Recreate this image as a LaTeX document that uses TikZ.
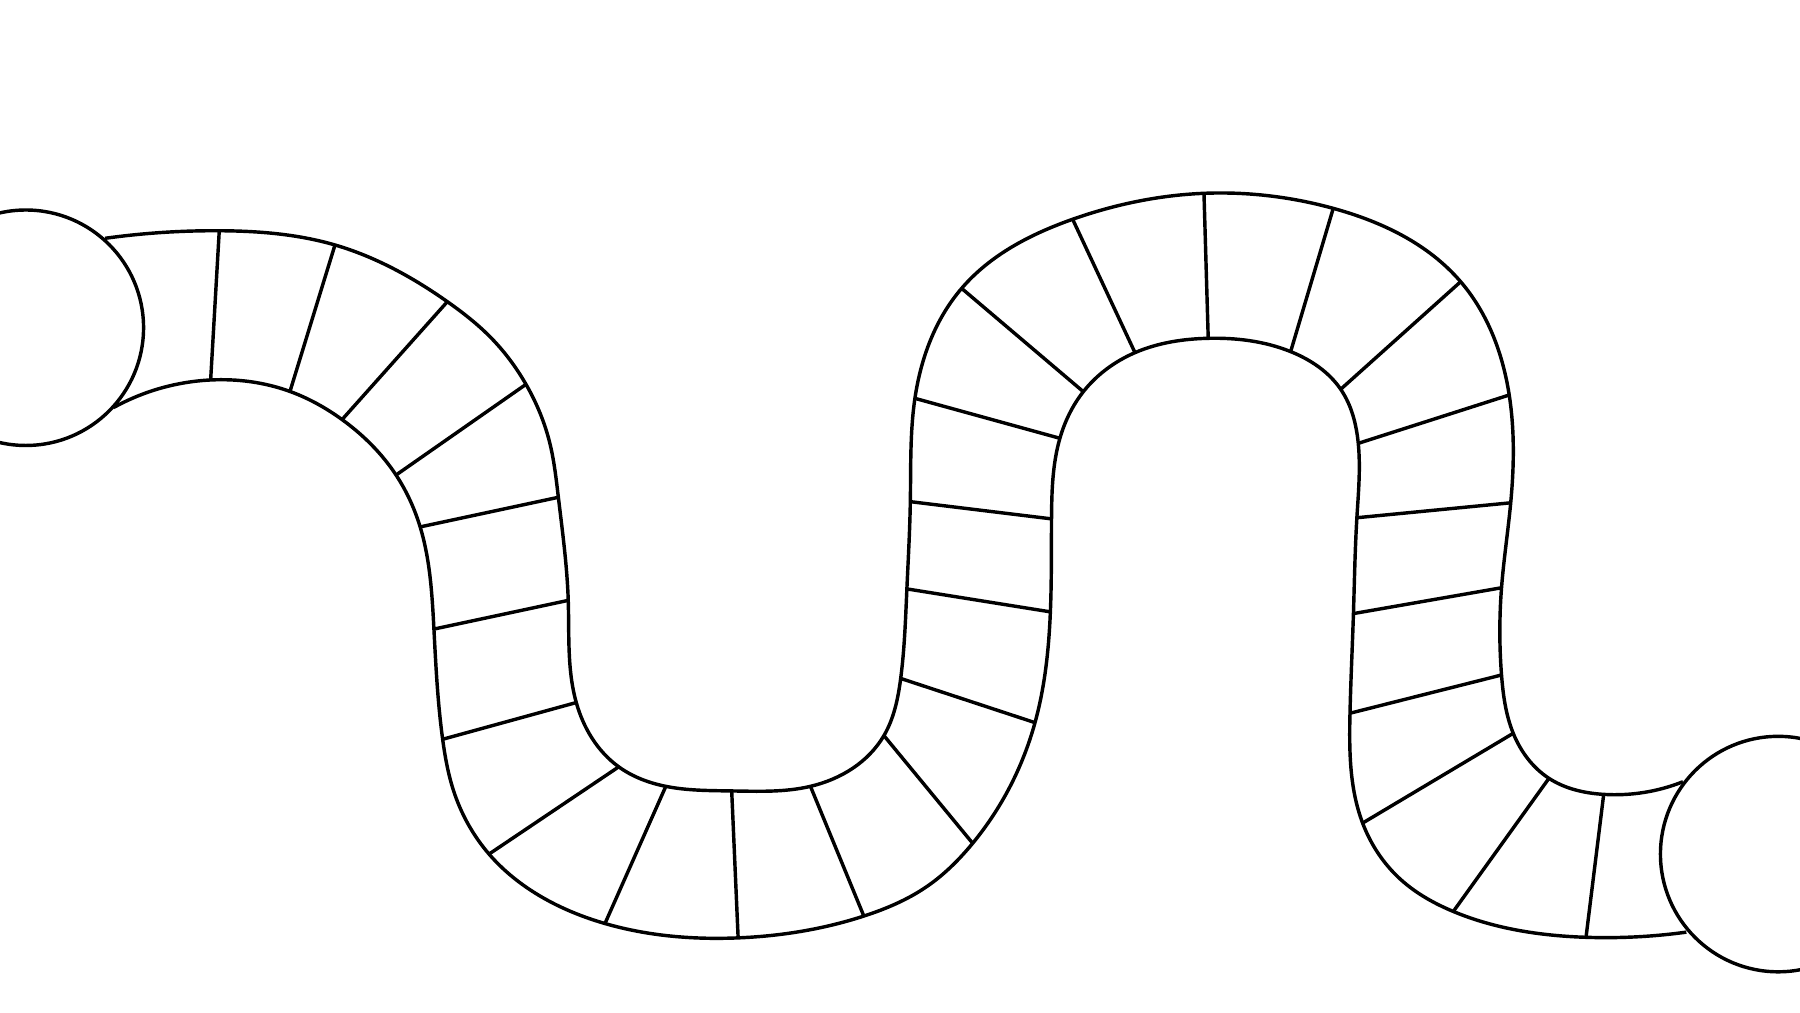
\documentclass[tikz,border=0pt]{standalone}
\usetikzlibrary{hobby}
\begin{document}
\begin{tikzpicture}[x=0.01cm,y=-0.01cm,
  edge/.style={line width=0.85pt, line join=round},
  rung/.style={line width=0.85pt}]
\useasboundingbox (0,0) rectangle (1568,882);
\clip (0,0) rectangle (1568,882);
% cell dividers: a = first border, b = second border
\coordinate (a1) at (191,201);     \coordinate (b1) at (183.5,331);
\coordinate (a2) at (291.8,213.4); \coordinate (b2) at (252.6,341);
\coordinate (a3) at (389.7,262.8); \coordinate (b3) at (298,365.5);
\coordinate (a4) at (458.2,334.8); \coordinate (b4) at (345,413.8);
\coordinate (a5) at (486.4,433.2); \coordinate (b5) at (366,459);
\coordinate (a6) at (495,523);     \coordinate (b6) at (378,548);
\coordinate (a7) at (502,612);     \coordinate (b7) at (385.6,644);
\coordinate (a8) at (539,668);     \coordinate (b8) at (426,744);
\coordinate (a9) at (580,685);     \coordinate (b9) at (527,804.5);
\coordinate (a10) at (637.4,689);  \coordinate (b10) at (643,817);
\coordinate (a11) at (706,685);    \coordinate (b11) at (752.5,798);
\coordinate (a12) at (770,640.8);  \coordinate (b12) at (847.3,734.6);
\coordinate (a13) at (784.6,591);  \coordinate (b13) at (901.6,629.5);
\coordinate (a14) at (790,513);    \coordinate (b14) at (915,533);
\coordinate (a15) at (793,437);    \coordinate (b15) at (916,452);
\coordinate (a16) at (797,347);    \coordinate (b16) at (923.3,381.8);
\coordinate (a17) at (837.7,251.2);\coordinate (b17) at (943.7,341.2);
\coordinate (a18) at (934.4,191);  \coordinate (b18) at (988.7,307.2);
\coordinate (a19) at (1048.8,168.4);\coordinate (b19) at (1052.5,294.7);
\coordinate (a20) at (1161.4,181.5);\coordinate (b20) at (1124.3,306.3);
\coordinate (a21) at (1272.4,245.4);\coordinate (b21) at (1167.9,339.1);
\coordinate (a22) at (1314.7,344.1);\coordinate (b22) at (1183.2,386.2);
\coordinate (a23) at (1316,438);   \coordinate (b23) at (1182,451);
\coordinate (a24) at (1308,512);   \coordinate (b24) at (1179,534.5);
\coordinate (a25) at (1308,588);   \coordinate (b25) at (1176,621.3);
\coordinate (a26) at (1318.2,638.8);\coordinate (b26) at (1187,717);
\coordinate (a27) at (1349.3,678); \coordinate (b27) at (1266,794);
\coordinate (a28) at (1397,692);   \coordinate (b28) at (1381.6,816.5);
% start and finish circles
\coordinate (start) at (22.5,285.5);
\coordinate (finish) at (1549,744);
\draw[edge] (start) circle[radius=1.025cm];
\draw[edge] (finish) circle[radius=1.025cm];
% first border
\draw[edge, use Hobby shortcut]
 (91.5,207.6) .. (a1) .. (a2) .. (a3) .. (426.8,293.3) .. (a4) .. (479,386.2)
 .. (a5) .. (a6) .. (a7) .. (a8) .. (a9) .. (a10) .. (a11) .. (a12) .. (a13)
 .. (a14) .. (a15) .. (a16) .. (a17) .. (a18) .. (a19) .. (a20) .. (a21)
 .. (a22) .. (a23) .. (a24) .. (a25) .. (a26) .. (a27) .. (a28) .. (1466,681);
% second border
\draw[edge, use Hobby shortcut]
 (99,355) .. (b1) .. (b2) .. (b3) .. (b4) .. (b5) .. (b6) .. (b7)
 .. (394.9,688.2) .. (b8) .. (482,786.9) .. (b9) .. (b10) .. (b11) .. (807.2,772.4)
 .. (b12) .. (879.8,685.3) .. (b13) .. (b14) .. (b15) .. (b16)
 .. (b17) .. (b18) .. (b19) .. (b20) .. (b21) .. (b22) .. (b23) .. (b24) .. (b25)
 .. (b26) .. (1220,766) .. (b27) .. (b28) .. (1469,812);
\foreach \i in {1,...,28} \draw[rung] (a\i) -- (b\i);
\end{tikzpicture}
\end{document}
